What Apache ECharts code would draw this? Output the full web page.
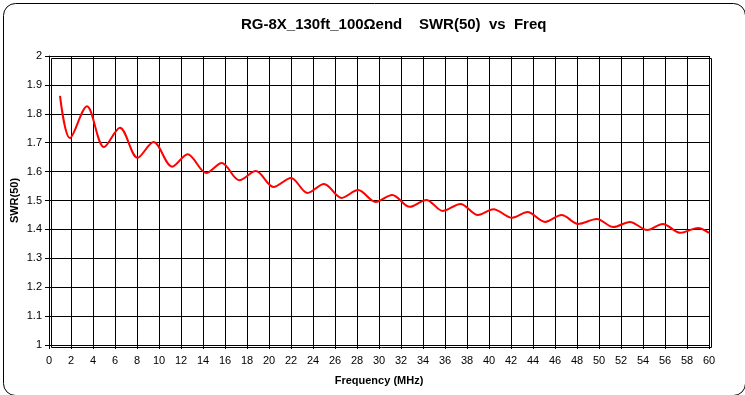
<!DOCTYPE html>
<html>
<head>
<meta charset="utf-8">
<script src="https://cdn.jsdelivr.net/npm/echarts@6/dist/echarts.min.js"></script>
<style>html,body{margin:0;padding:0;background:#fff;}#c{width:745px;height:395px;}</style>
</head>
<body>
<div id="c"></div>
<script>
const titleText = 'RG-8X_130ft_100\u03A9end    SWR(50)  vs  Freq';
const xAxisName = 'Frequency (MHz)';
const yAxisName = 'SWR(50)';
const freqMHz = [1.0, 1.9, 3.45, 5.0, 6.45, 8.05, 9.5, 11.2, 12.6, 14.3, 15.7, 17.3, 18.8, 20.4, 22.0, 23.5, 25.0, 26.6, 28.1, 29.7, 31.2, 32.8, 34.3, 35.8, 37.4, 39.0, 40.4, 42.1, 43.5, 45.1, 46.6, 48.1, 49.8, 51.3, 52.8, 54.4, 55.8, 57.4, 59.0, 60.0];
const swr = [1.862, 1.716, 1.826, 1.685, 1.752, 1.648, 1.702, 1.617, 1.660, 1.595, 1.630, 1.570, 1.602, 1.547, 1.578, 1.526, 1.557, 1.509, 1.536, 1.495, 1.519, 1.478, 1.502, 1.464, 1.488, 1.450, 1.470, 1.440, 1.460, 1.426, 1.450, 1.419, 1.436, 1.408, 1.426, 1.398, 1.419, 1.388, 1.405, 1.388];

const chart = echarts.init(document.getElementById('c'), null, {renderer: 'canvas'});
const font = 'Liberation Sans, Arial, sans-serif';
chart.setOption({
  animation: false,
  backgroundColor: '#fff',
  title: {
    text: titleText, left: 236, top: 12,
    textStyle: {fontFamily: font, fontSize: 15, fontWeight: 'bold', color: '#000'}
  },
  graphic: [{
    type: 'rect', left: 1, top: 1, shape: {width: 742, height: 392, r: 12},
    style: {fill: 'none', stroke: '#000', lineWidth: 1}, silent: true, z: -1
  }, {
    type: 'rect', left: 49, top: 56, shape: {width: 660, height: 289},
    style: {fill: 'none', stroke: '#000', lineWidth: 1}, silent: true, z: 10
  }],
  grid: {left: 49, right: 36, top: 56, bottom: 50, containLabel: false, outerBoundsMode: 'none'},
  xAxis: {
    type: 'value', min: 0, max: 60, interval: 2,
    name: xAxisName, nameLocation: 'middle', nameGap: 30, nameMoveOverlap: false,
    nameTextStyle: {fontFamily: font, fontSize: 11, fontWeight: 'bold', color: '#000'},
    axisLine: {lineStyle: {color: '#000', width: 1}},
    axisTick: {show: true, length: 4, inside: false, lineStyle: {color: '#000'}},
    axisLabel: {fontFamily: font, fontSize: 11, color: '#000', margin: 10},
    splitLine: {show: true, lineStyle: {color: '#000', width: 1}}
  },
  yAxis: {
    type: 'value', min: 1, max: 2, interval: 0.1,
    name: yAxisName, nameLocation: 'middle', nameGap: 29, nameRotate: 90, nameMoveOverlap: false,
    nameTextStyle: {fontFamily: font, fontSize: 11, fontWeight: 'bold', color: '#000'},
    axisLine: {show: true, lineStyle: {color: '#000', width: 1}},
    axisTick: {show: true, length: 4, lineStyle: {color: '#000'}},
    axisLabel: {fontFamily: font, fontSize: 11, color: '#000', margin: 7,
      formatter: v => (Math.round(v * 10) / 10).toString()},
    splitLine: {show: true, lineStyle: {color: '#000', width: 1}}
  },
  series: [{
    type: 'line',
    data: freqMHz.map((f, i) => [f, swr[i]]),
    smooth: 0.33,
    showSymbol: false,
    lineStyle: {color: '#ff0000', width: 2},
    clip: true
  }]
});
</script>
</body>
</html>
